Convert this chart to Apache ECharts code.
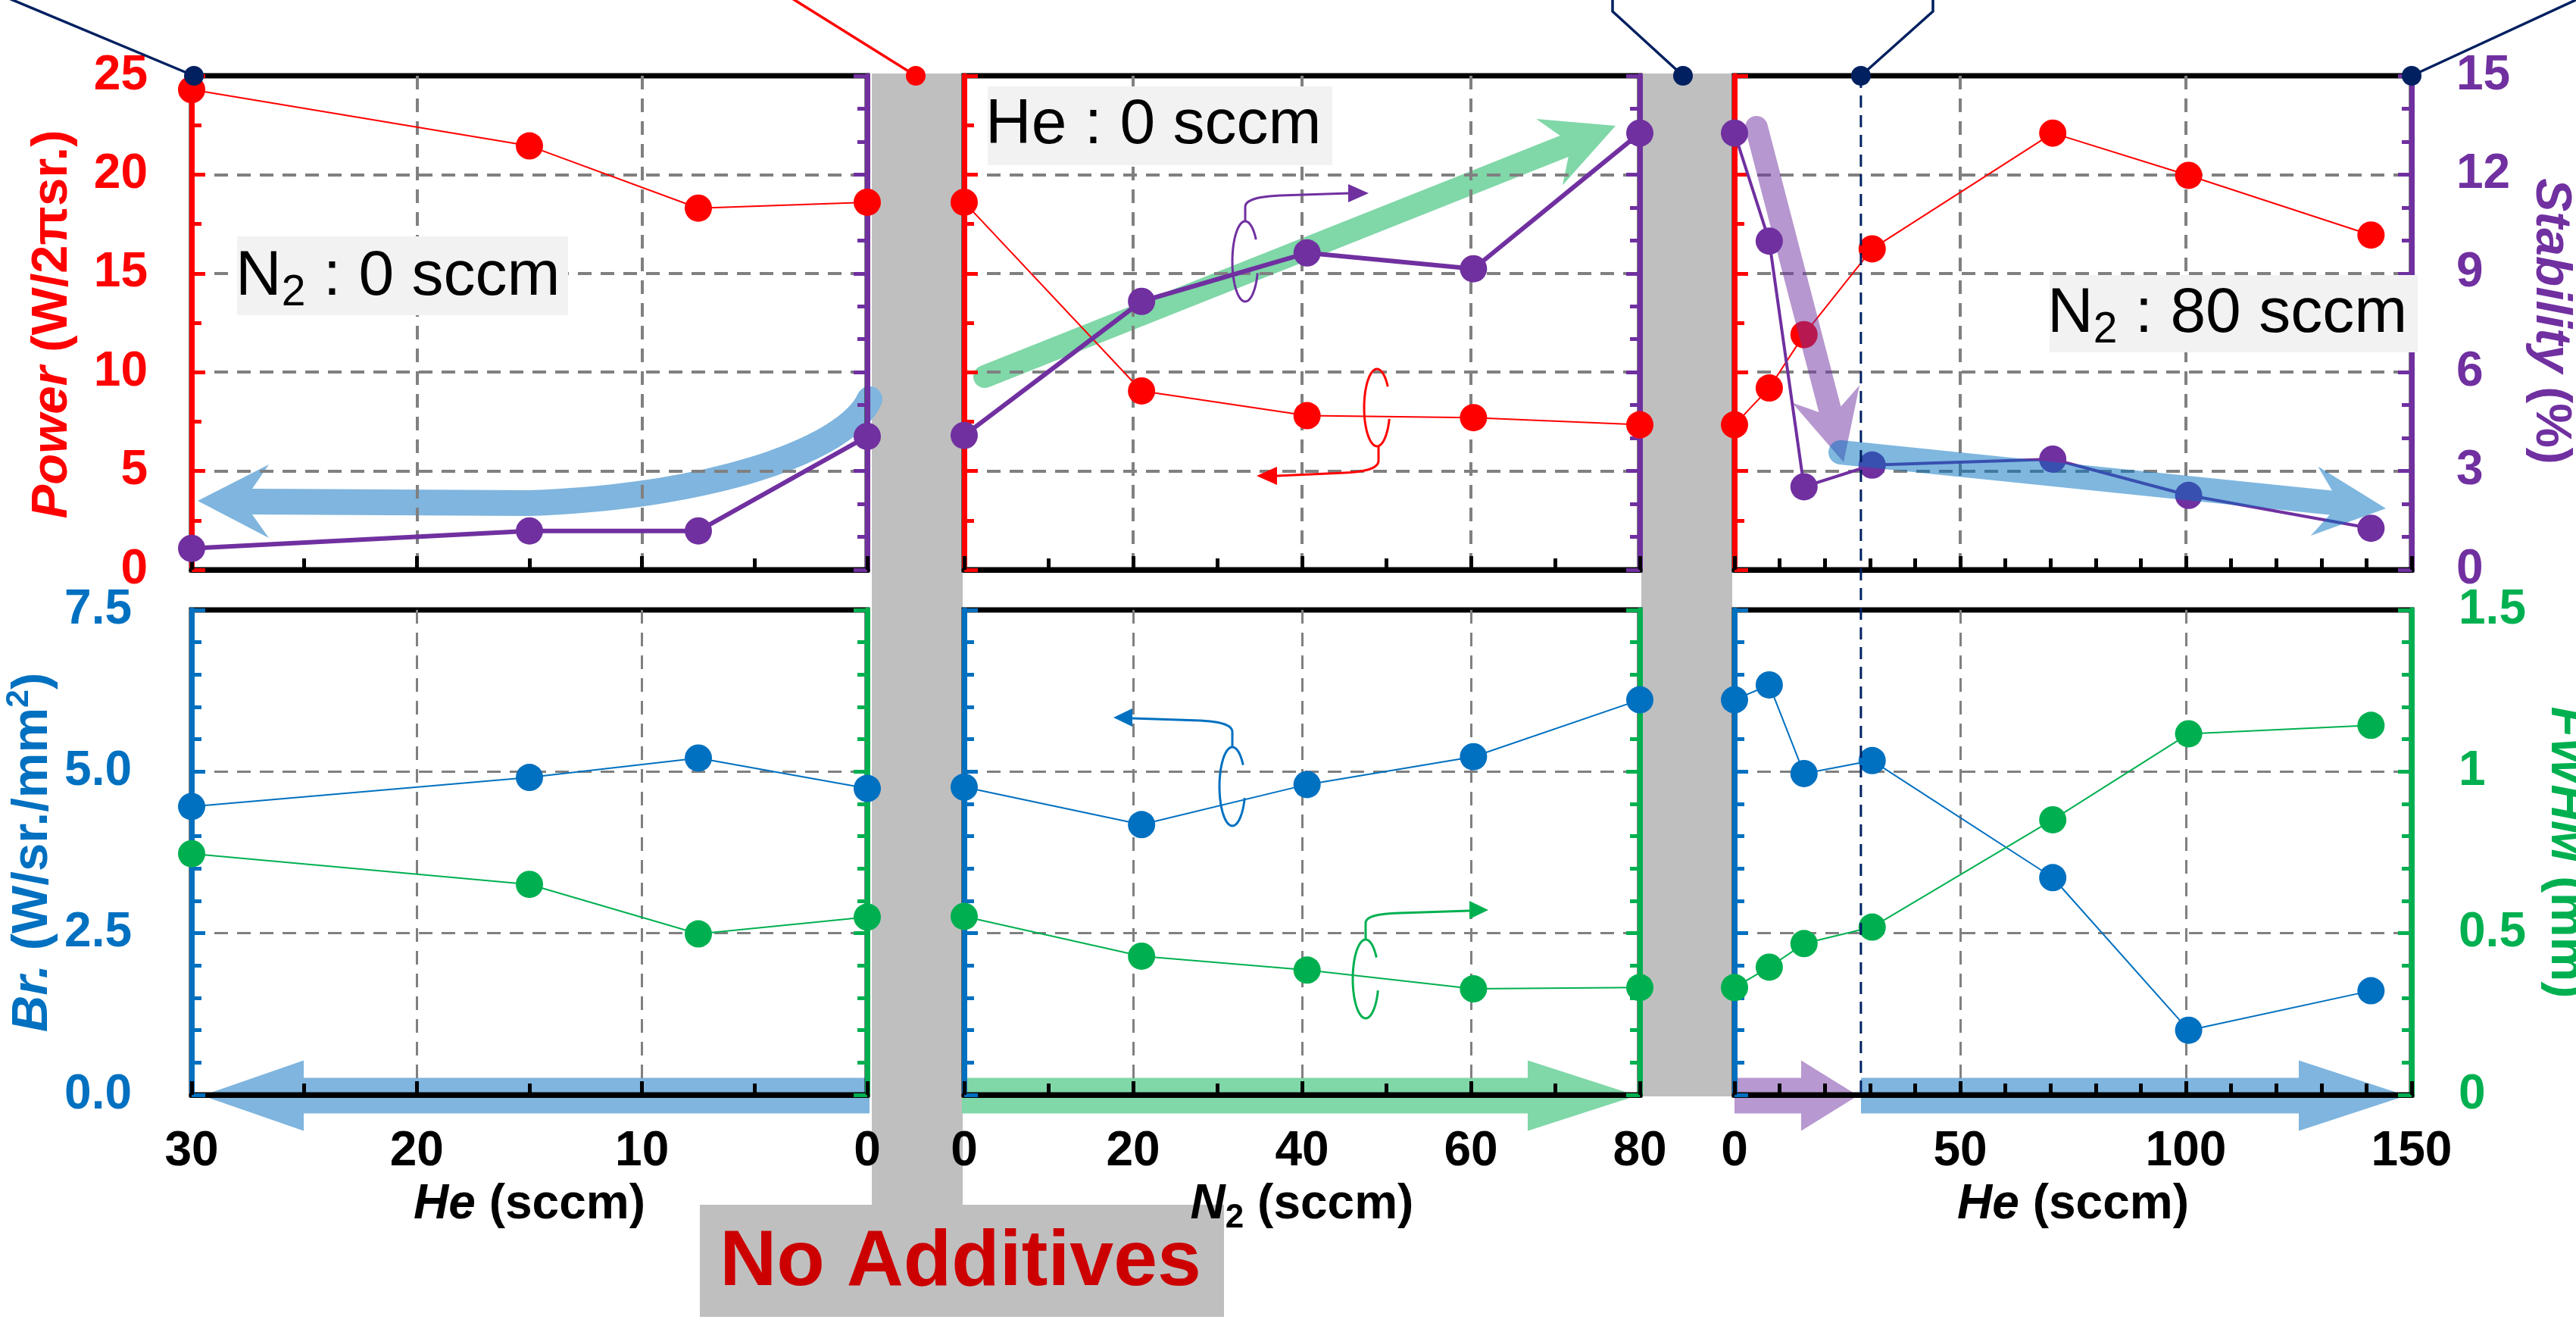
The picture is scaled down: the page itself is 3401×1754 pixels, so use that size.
<!DOCTYPE html>
<html><head><meta charset="utf-8">
<script src="https://cdn.jsdelivr.net/npm/echarts@6/dist/echarts.min.js"></script>
<style>html,body{margin:0;padding:0;background:#fff}#c{width:3401px;height:1754px}</style>
</head><body><div id="c"></div>
<script>
// ---------------- DATA ----------------
const heLeft = [30, 15, 7.5, 0];
const n2Mid = [0, 21, 40.6, 60.3, 80];
const heRight = [0, 7.7, 15.4, 30.5, 70.5, 100.6, 141];

const powerLeft = [24.3, 21.45, 18.3, 18.6];
const stabLeft = [0.65, 1.18, 1.18, 4.05];
const powerMid = [18.6, 9.05, 7.8, 7.7, 7.34];
const stabMid = [4.08, 8.15, 9.62, 9.14, 13.26];
const powerRight = [7.34, 9.2, 11.9, 16.24, 22.1, 19.96, 16.94];
const stabRight = [13.26, 9.98, 2.52, 3.18, 3.36, 2.26, 1.26];

const brLeft = [4.46, 4.91, 5.21, 4.74];
const fwhmLeft = [0.746, 0.651, 0.498, 0.55];
const brMid = [4.76, 4.18, 4.8, 5.23, 6.11];
const fwhmMid = [0.552, 0.429, 0.386, 0.328, 0.332];
const brRight = [6.11, 6.34, 4.97, 5.17, 3.36, 1.0, 1.61];
const fwhmRight = [0.332, 0.395, 0.468, 0.519, 0.851, 1.117, 1.143];

const heMarker = 28;

// tick labels
const heLeftTicks = [0, 10, 20, 30];
const n2Ticks = [0, 20, 40, 60, 80];
const heRightTicks = [0, 50, 100, 150];
const powerTicks = [0, 5, 10, 15, 20, 25];
const stabTicks = [0, 3, 6, 9, 12, 15];
const brTicks = [0, 2.5, 5, 7.5];
const fwhmTicks = [0, 0.5, 1, 1.5];

// ---------------- STYLE ----------------
const FONT = 'Liberation Sans';
const C = {red:'#FF0000', purple:'#7030A0', blue:'#0070C0', green:'#00B050', navy:'#002060',
  gray:'#BFBFBF', grid:'#808080', blueO:'#7FB5DE', greenO:'#80D7A8', purpleO:'#B798D0',
  blueT:'rgba(0,112,192,0.5)', purpleT:'rgba(112,48,160,0.5)'};

const gridRects = [
  {left:253, top:100, width:892, height:652},
  {left:1273, top:100, width:892, height:652},
  {left:2290, top:100, width:894, height:652},
  {left:253, top:805, width:892, height:640},
  {left:1273, top:805, width:892, height:640},
  {left:2290, top:805, width:894, height:640}
];
const grids = gridRects.map(g => Object.assign({show:true, borderColor:'#000', borderWidth:7,
  backgroundColor:'transparent', containLabel:false, outerBoundsMode:'none'}, g));

function xAx(i) {
  const p = i % 3;
  const t = [heLeftTicks, n2Ticks, heRightTicks][p];
  return {
    type:'value', gridIndex:i, position:'bottom',
    min:t[0], max:t[t.length-1], interval:t[1]-t[0], inverse: p === 0,
    axisLine:{show:true, onZero:false, lineStyle:{color:'#000', width:7}},
    axisTick:{show:true, inside:true, length:18, lineStyle:{color:'#000', width:5}},
    minorTick:{show:true, splitNumber:[2,2,5][p], length:15, lineStyle:{color:'#000', width:5}},
    axisLabel:{show:i >= 3, margin:43, color:'#000', fontSize:64, fontWeight:'bold', fontFamily:FONT},
    splitLine:{show:true, showMinLine:false, showMaxLine:false,
      lineStyle:{color:C.grid, width:i < 3 ? 4 : 3, type:[18,12]}},
    minorSplitLine:{show:false}
  };
}

function yAx(g, side) {
  const top = g < 3, p = g % 3, left = side === 'left';
  let t, color, split, showLabel, margin, fmt;
  if (top && left) { t = powerTicks; color = C.red; split = 2; showLabel = p === 0; margin = 58; }
  else if (top) { t = stabTicks; color = C.purple; split = 3; showLabel = p === 2; margin = 59; }
  else if (left) { t = brTicks; color = C.blue; split = 5; showLabel = p === 0; margin = 79; fmt = v => v.toFixed(1); }
  else { t = fwhmTicks; color = C.green; split = 5; showLabel = p === 2; margin = 62; fmt = v => String(v); }
  const o = {
    type:'value', gridIndex:g, position:side,
    min:t[0], max:t[t.length-1], interval:t[1]-t[0],
    axisLine:{show:true, onZero:false, lineStyle:{color, width:7}},
    axisTick:{show:true, inside:true, length:18, lineStyle:{color, width:5}},
    minorTick:{show:true, splitNumber:split, length:13, lineStyle:{color, width:5}},
    axisLabel:{show:showLabel, margin, color, fontSize:64, fontWeight:'bold', fontFamily:FONT},
    splitLine:{show:left, showMinLine:false, showMaxLine:false,
      lineStyle:{color:C.grid, width:top ? 4 : 3, type:[18,12]}},
    minorSplitLine:{show:false}
  };
  if (fmt) o.axisLabel.formatter = fmt;
  return o;
}

const xAxes = [0,1,2,3,4,5].map(xAx);
const yAxes = [];
for (let g = 0; g < 6; g++) { yAxes.push(yAx(g, 'left')); yAxes.push(yAx(g, 'right')); }

function ser(xi, yi, xs, ys, color, lw) {
  return {type:'line', xAxisIndex:xi, yAxisIndex:yi, data:xs.map((x, k) => [x, ys[k]]),
    symbol:'circle', symbolSize:36, clip:false, z:3, showSymbol:true,
    lineStyle:{color, width:lw}, itemStyle:{color, borderWidth:0},
    emphasis:{disabled:true}, animation:false};
}
const series = [
  ser(0,0,heLeft,powerLeft,C.red,2), ser(0,1,heLeft,stabLeft,C.purple,6),
  ser(1,2,n2Mid,powerMid,C.red,2), ser(1,3,n2Mid,stabMid,C.purple,6),
  ser(2,4,heRight,powerRight,C.red,2), ser(2,5,heRight,stabRight,C.purple,4),
  ser(3,6,heLeft,brLeft,C.blue,2), ser(3,7,heLeft,fwhmLeft,C.green,2),
  ser(4,8,n2Mid,brMid,C.blue,2), ser(4,9,n2Mid,fwhmMid,C.green,2),
  ser(5,10,heRight,brRight,C.blue,2), ser(5,11,heRight,fwhmRight,C.green,2)
];

const chart = echarts.init(document.getElementById('c'), null, {renderer:'canvas', width:3401, height:1754});
chart.setOption({animation:false, backgroundColor:'#fff', grid:grids, xAxis:xAxes, yAxis:yAxes, series});

// ---------------- DECORATIONS ----------------
function arrowPts(sx, sy, tx, ty, w, hw, hl, jl, round) {
  const dx = tx - sx, dy = ty - sy, len = Math.hypot(dx, dy);
  const ux = dx / len, uy = dy / len, px = -uy, py = ux;
  const P = (a, b) => [tx - ux * a + px * b, ty - uy * a + py * b];
  const pts = [P(0, 0), P(hl, hw), P(jl, w)];
  if (round) { for (let k = 0; k <= 16; k++) { const t = Math.PI * k / 16; pts.push(P(len + w * Math.sin(t), w * Math.cos(t))); } }
  else { pts.push(P(len, w), P(len, -w)); }
  pts.push(P(jl, -w), P(hl, -hw));
  return pts;
}
function cubic(p0, p1, p2, p3, n) {
  const r = [];
  for (let k = 0; k <= n; k++) { const t = k / n, m = 1 - t;
    r.push([m*m*m*p0[0] + 3*m*m*t*p1[0] + 3*m*t*t*p2[0] + t*t*t*p3[0],
            m*m*m*p0[1] + 3*m*m*t*p1[1] + 3*m*t*t*p2[1] + t*t*t*p3[1]]); }
  return r;
}
function quad(p0, p1, p2, n) {
  const r = [];
  for (let k = 0; k <= n; k++) { const t = k / n, m = 1 - t;
    r.push([m*m*p0[0] + 2*m*t*p1[0] + t*t*p2[0], m*m*p0[1] + 2*m*t*p1[1] + t*t*p2[1]]); }
  return r;
}
function ellArc(cx, cy, rx, ry) {
  const r = [];
  for (let k = 0; k <= 72; k++) { const a = (-33 - 310 * k / 72) * Math.PI / 180;
    r.push([cx + rx * Math.cos(a), cy + ry * Math.sin(a)]); }
  return r;
}
function curl(cx, cy, rx, ry, leader, head, color) {
  return [
    {type:'polyline', shape:{points:ellArc(cx, cy, rx, ry)}, style:{stroke:color, lineWidth:3, fill:null}, z:12},
    {type:'polyline', shape:{points:leader}, style:{stroke:color, lineWidth:3, fill:null}, z:12},
    {type:'polygon', shape:{points:head}, style:{fill:color}, z:12}
  ];
}

const g = [];
// gray separators and No Additives box
g.push({type:'rect', shape:{x:1151, y:97, width:120, height:1493}, style:{fill:C.gray}, z:-2});
g.push({type:'rect', shape:{x:2167, y:97, width:120, height:1350}, style:{fill:C.gray}, z:-2});
g.push({type:'rect', shape:{x:924, y:1590, width:692, height:148}, style:{fill:C.gray}, z:-2});
g.push({type:'text', x:1268, y:1667, z:16, style:{text:'No Additives', align:'center', verticalAlign:'middle',
  fontFamily:FONT, fontSize:104, fontWeight:'bold', fill:'#CC0000'}});

// bottom axis arrows
g.push({type:'polygon', shape:{points:arrowPts(1148, 1446, 267, 1446, 23.5, 46.5, 134, 134, false)}, style:{fill:C.blueO}, z:-1});
g.push({type:'polygon', shape:{points:arrowPts(1270, 1446, 2161, 1446, 23.5, 46.5, 144, 144, false)}, style:{fill:C.greenO}, z:-1});
g.push({type:'polygon', shape:{points:arrowPts(2290, 1446, 2453, 1446, 23.5, 46.5, 75, 75, false)}, style:{fill:C.purpleO}, z:-1});
g.push({type:'polygon', shape:{points:arrowPts(2457, 1446, 3177, 1446, 23.5, 46.5, 142, 142, false)}, style:{fill:C.blueO}, z:-1});

// top-left curved arrow
const curvePts = cubic([1148, 527], [1120, 590], [950, 655], [700, 664], 40).concat([[335, 662]]);
g.push({type:'polyline', shape:{points:curvePts}, style:{stroke:C.blueO, lineWidth:34, lineCap:'round', lineJoin:'round', fill:null}, z:-1});
g.push({type:'polygon', shape:{points:[[261,661],[355,613],[333,645],[333,679],[355,710]]}, style:{fill:C.blueO}, z:-1});
// middle green arrow
g.push({type:'polygon', shape:{points:arrowPts(1300, 497, 2133, 166, 15, 47, 94, 73, true)}, style:{fill:C.greenO}, z:-1});
// right arrows (semi-transparent, above)
g.push({type:'polygon', shape:{points:arrowPts(2319, 168, 2434, 610, 15, 46, 93, 72, true)}, style:{fill:C.purpleT}, z:5});
g.push({type:'polygon', shape:{points:arrowPts(2430, 597, 3150, 671, 16, 46, 95, 73, true)}, style:{fill:C.blueT}, z:5});

// curls
g.push(...curl(1644, 345, 17, 53,
  [[1644,292],[1644,273]].concat(quad([1644,273],[1644,260],[1690,258],12)).concat([[1782,255]]),
  [[1807,255],[1780,243],[1780,267]], C.purple));
g.push(...curl(1818, 538, 17, 51,
  [[1820,589],[1820,608]].concat(quad([1820,608],[1820,622],[1775,624],12)).concat([[1686,628]]),
  [[1659,628],[1686,616],[1686,640]], C.red));
g.push(...curl(1627, 1038, 17, 52,
  [[1627,986],[1627,966]].concat(quad([1627,966],[1627,953],[1585,951],12)).concat([[1495,948]]),
  [[1470,947],[1495,935],[1495,959]], C.blue));
g.push(...curl(1803, 1292, 17, 52,
  [[1803,1240],[1803,1218]].concat(quad([1803,1218],[1803,1206],[1848,1205],12)).concat([[1940,1202]]),
  [[1965,1201],[1940,1189],[1940,1213]], C.green));

// condition text boxes
const subRich = {n:{fontFamily:FONT, fontSize:84, lineHeight:100, fill:'#000'},
                 s:{fontFamily:FONT, fontSize:57, lineHeight:41, verticalAlign:'bottom', fill:'#000'}};
g.push({type:'rect', shape:{x:313, y:312, width:437, height:104}, style:{fill:'#F2F2F2'}, z:15});
g.push({type:'text', x:311, y:366, z:16, style:{text:'{n|N}{s|2}{n| : 0 sccm}', rich:subRich, align:'left', verticalAlign:'middle', fontFamily:FONT, fontSize:84, fill:'#000'}});
g.push({type:'rect', shape:{x:1304, y:114, width:455, height:104}, style:{fill:'#F2F2F2'}, z:15});
g.push({type:'text', x:1301, y:166, z:16, style:{text:'{n|He : 0 sccm}', rich:subRich, align:'left', verticalAlign:'middle', fontFamily:FONT, fontSize:84, fill:'#000'}});
g.push({type:'rect', shape:{x:2706, y:363, width:486, height:102}, style:{fill:'#F2F2F2'}, z:15});
g.push({type:'text', x:2703, y:415, z:16, style:{text:'{n|N}{s|2}{n| : 80 sccm}', rich:subRich, align:'left', verticalAlign:'middle', fontFamily:FONT, fontSize:84, fill:'#000'}});

// axis titles
function titleRich(color, fs) {
  return {i:{fontFamily:FONT, fontSize:fs, fontWeight:'bold', fontStyle:'italic', lineHeight:80, fill:color},
          n:{fontFamily:FONT, fontSize:fs, fontWeight:'bold', lineHeight:80, fill:color},
          sub:{fontFamily:FONT, fontSize:44, fontWeight:'bold', lineHeight:44, verticalAlign:'bottom', fill:color},
          sup:{fontFamily:FONT, fontSize:43, fontWeight:'bold', lineHeight:44, verticalAlign:'top', fill:color}};
}
function title(x, y, rot, text, color, fs) {
  return {type:'text', x, y, rotation:rot, z:10, style:{text, rich:titleRich(color, fs), align:'center', verticalAlign:'middle',
    fontFamily:FONT, fontSize:fs, fontWeight:'bold', fill:color}};
}
g.push(title(70, 428, Math.PI/2, '{i|Power}{n| (W/2πsr.)}', C.red, 67));
g.push(title(44, 1125, Math.PI/2, '{i|Br.}{n| (W/sr./mm}{sup|2}{n|)}', C.blue, 67));
g.push(title(3367, 424, -Math.PI/2, '{i|Stability}{n| (%)}', C.purple, 66));
g.push(title(3387, 1125, -Math.PI/2, '{i|FWHM}{n| (mm)}', C.green, 66));
g.push(title(699, 1590, 0, '{i|He}{n| (sccm)}', '#000', 64));
g.push(title(1719, 1590, 0, '{i|N}{sub|2}{n| (sccm)}', '#000', 64));
g.push(title(2737, 1590, 0, '{i|He}{n| (sccm)}', '#000', 64));

// navy dashed marker line at He = heMarker across right panels
const xm = chart.convertToPixel({xAxisIndex:2}, heMarker);
const yTop = chart.convertToPixel({yAxisIndex:5}, stabTicks[stabTicks.length-1]);
const yBot = chart.convertToPixel({yAxisIndex:10}, 0);
g.push({type:'line', shape:{x1:xm, y1:yTop, x2:xm, y2:yBot}, style:{stroke:C.navy, lineWidth:3, lineDash:[16,10]}, z:6});

// callout connectors and dots at the top
const conn = (pts, color) => ({type:'polyline', shape:{points:pts}, style:{stroke:color, lineWidth:3.5, fill:null}, z:20});
g.push(conn([[0,-7],[256,100]], C.navy));
g.push(conn([[1041,-5],[1209,100]], C.red));
g.push(conn([[2129,-5],[2129,15],[2222,100]], C.navy));
g.push(conn([[2552,-5],[2552,15],[xm,100]], C.navy));
g.push(conn([[3405,-2],[3184,100]], C.navy));
const dot = (x, y, color) => ({type:'circle', shape:{cx:x, cy:y, r:13}, style:{fill:color}, z:21});
g.push(dot(256,100,C.navy), dot(1209,100,C.red), dot(2222,100,C.navy), dot(xm,100,C.navy), dot(3184,100,C.navy));

chart.setOption({graphic:{elements:g}});
</script>
</body></html>
